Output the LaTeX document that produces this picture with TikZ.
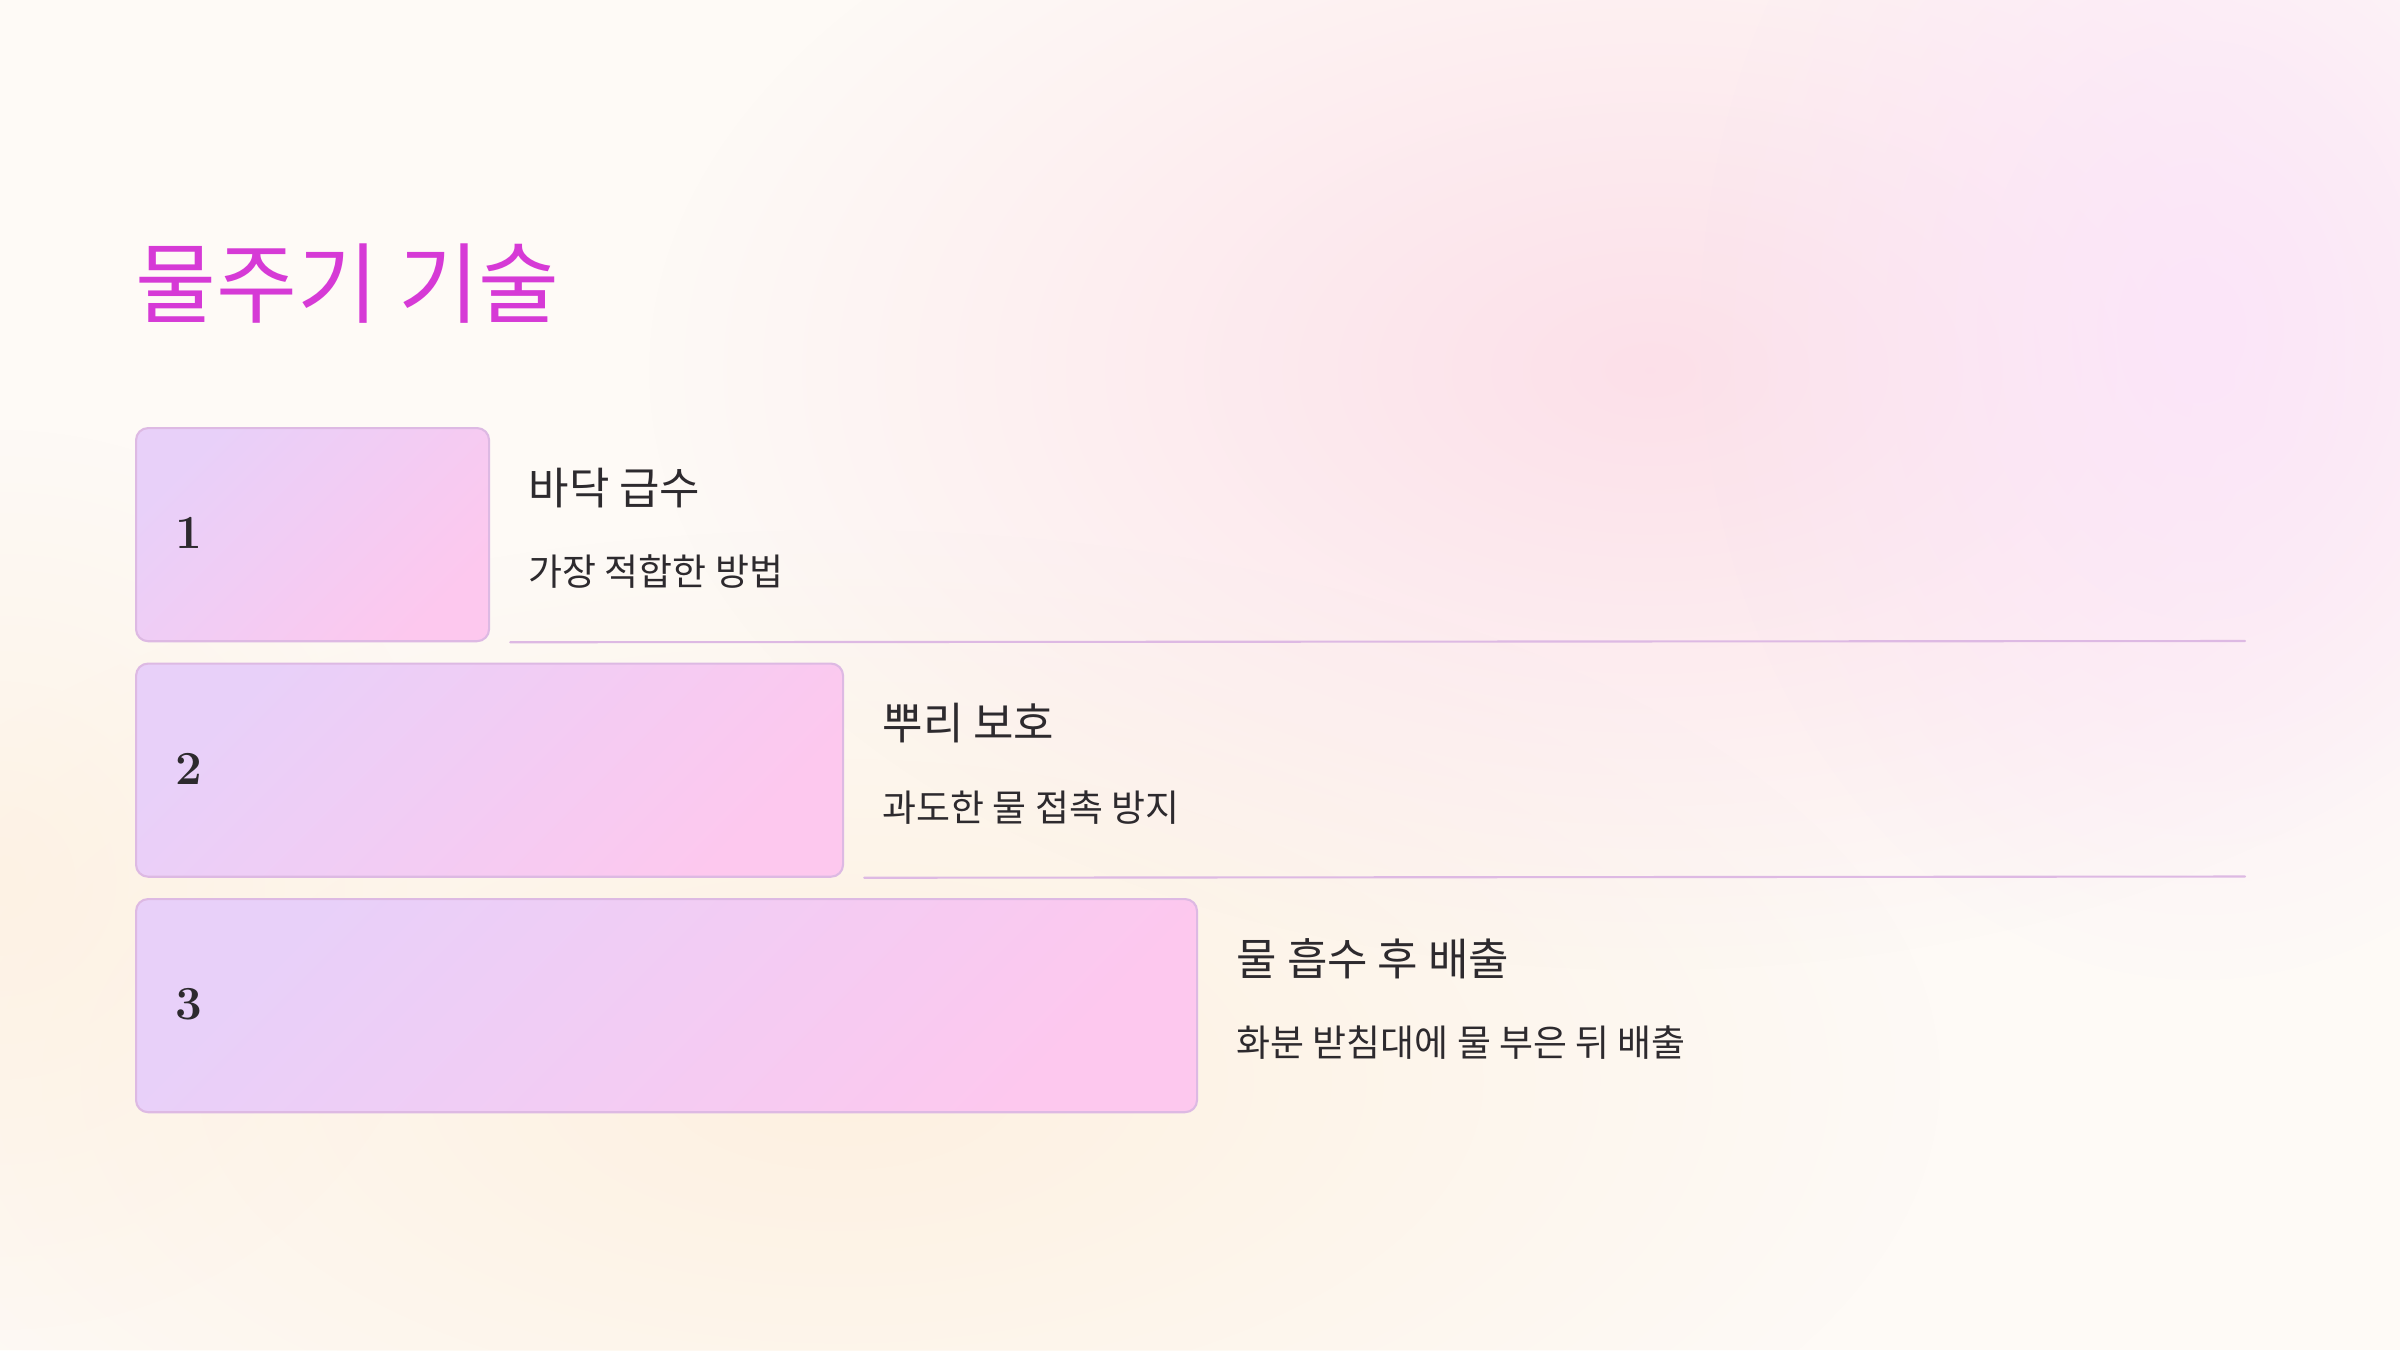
\documentclass[tikz,border=0pt]{standalone}
\usepackage{fontspec}
\newfontfamily\kofont{Noto Sans CJK KR}
\usetikzlibrary{fadings}
\definecolor{nen}{HTML}{FEFAF6}
\definecolor{hong}{HTML}{FCDDE8}
\definecolor{tim}{HTML}{FBE4FA}
\definecolor{cam}{HTML}{FDEEDB}
\definecolor{tuade}{HTML}{D63AD6}
\definecolor{chu}{HTML}{2D2A2E}
\definecolor{hoptrai}{HTML}{E8D0F9}
\definecolor{hopphai}{HTML}{FDC8EE}
\definecolor{vien}{HTML}{DDB9E3}
\tikzfading[name=mo, inner color=transparent!0, outer color=transparent!100]
\begin{document}
\begin{tikzpicture}[x=0.01cm,y=-0.01cm,line join=round,line cap=round,font=\kofont,
	hop/.style={draw=vien,line width=0.6pt,rounded corners=1.2mm,left color=hoptrai,right color=hopphai,shading angle=45,anchor=north west,inner sep=0,minimum height=2.13cm},
	soto/.style={font=\normalfont\bfseries\fontsize{13.5}{16}\selectfont,text=chu,anchor=west,inner sep=0},
	tieude/.style={font=\kofont\fontsize{12.5}{15}\selectfont,text=chu,anchor=west,inner sep=0},
	mota/.style={font=\kofont\fontsize{10.5}{13}\selectfont,text=chu,anchor=west,inner sep=0},
	ke/.style={draw=vien,line width=0.6pt}]
	\useasboundingbox (0,0) rectangle (2400,1350);
	% nen
	\fill[nen] (0,0) rectangle (2400,1350);
	\fill[cam,path fading=mo,fill opacity=0.8] (840,1080) ellipse (1100 and 550);
	\fill[cam,path fading=mo,fill opacity=0.6] (0,880) ellipse (450 and 450);
	\fill[hong,path fading=mo,fill opacity=0.9] (1650,370) ellipse (1000 and 600);
	\fill[tim,path fading=mo,fill opacity=0.9] (2200,330) ellipse (500 and 650);
	% tieu de
	\node[font=\kofont\fontsize{25}{30}\selectfont,text=tuade,anchor=west,inner sep=0] (tuade) at (135,284) {물주기 기술};
	% cac buoc
	\foreach \so/\dai/\ten/\loi in {1/353/바닥 급수/가장 적합한 방법,2/707/뿌리 보호/과도한 물 접촉 방지,3/1061/물 흡수 후 배출/화분 받침대에 물 부은 뒤 배출}{
		\pgfmathsetmacro\tren{427+(\so-1)*235.5}
		\pgfmathsetmacro\phai{135+\dai}
		\node[hop,minimum width=\dai*0.01cm] (hop\so) at (135,\tren) {};
		\node[soto] (so\so) at (175,\tren+106) {\so};
		\node[tieude] (ten\so) at (\phai+40,\tren+61) {\ten};
		\node[mota] (loi\so) at (\phai+40,\tren+145) {\loi};
		\ifnum\so<3
			\coordinate (cuoi\so) at (2245,\tren+214);
			\draw[ke] ([xshift=0.2cm]hop\so.south east) -- (cuoi\so);
		\fi
	}
\end{tikzpicture}
\end{document}
